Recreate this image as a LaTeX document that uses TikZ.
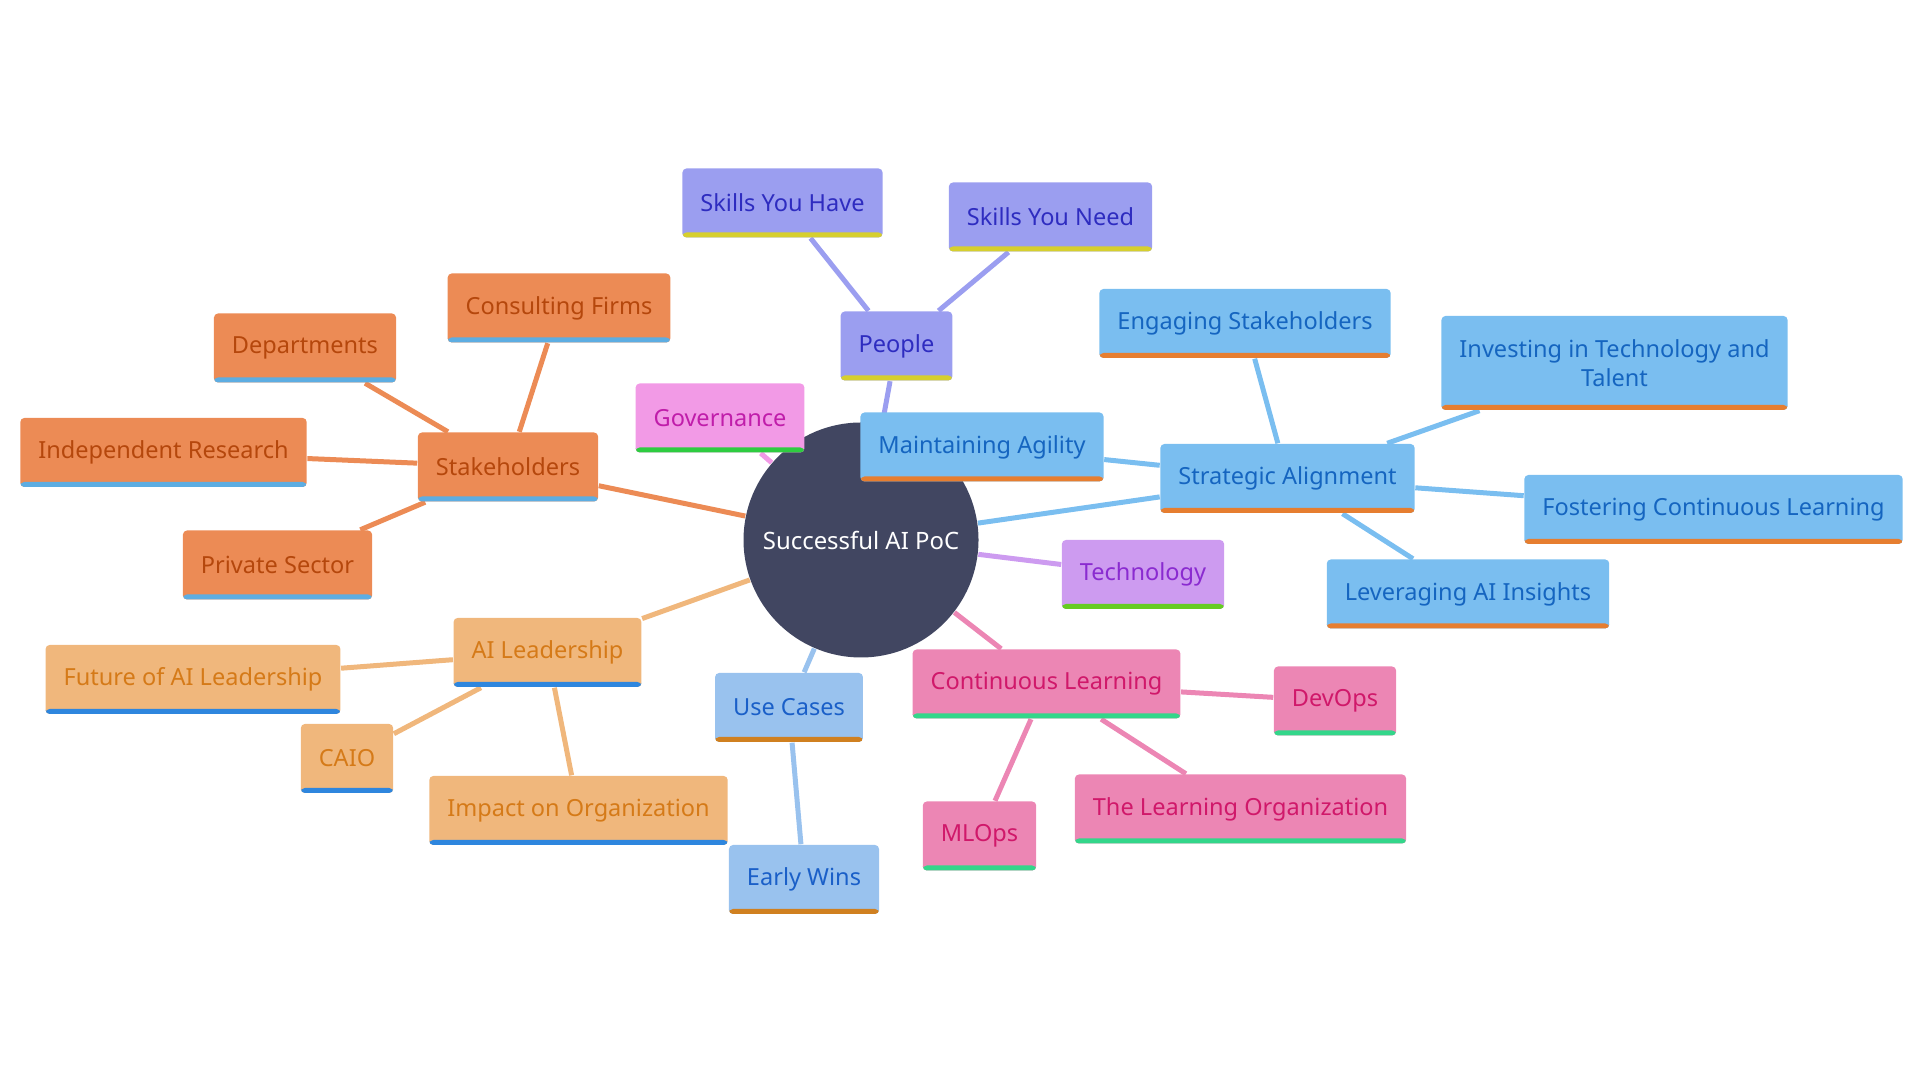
\documentclass[tikz,border=0pt]{standalone}
\usepackage{fontspec}
\setmainfont{Noto Sans}
\usepackage{tikz}
\usetikzlibrary{backgrounds}

\definecolor{hubfill}{HTML}{414661}
\definecolor{stakefill}{HTML}{EC8B55}
\definecolor{staketext}{HTML}{B5470C}
\definecolor{stakebar}{HTML}{5DADE2}
\definecolor{peoplefill}{HTML}{9B9EF0}
\definecolor{peopletext}{HTML}{2E2CC0}
\definecolor{peoplebar}{HTML}{D6CF2E}
\definecolor{govfill}{HTML}{F29AE6}
\definecolor{govtext}{HTML}{C01DAA}
\definecolor{govbar}{HTML}{2ECC40}
\definecolor{stratfill}{HTML}{7ABEF0}
\definecolor{strattext}{HTML}{1565C0}
\definecolor{stratbar}{HTML}{E67E30}
\definecolor{techfill}{HTML}{CD9BF0}
\definecolor{techtext}{HTML}{8A2BD0}
\definecolor{techbar}{HTML}{66CC22}
\definecolor{learnfill}{HTML}{EC86B4}
\definecolor{learntext}{HTML}{D0186A}
\definecolor{learnbar}{HTML}{33D68A}
\definecolor{usefill}{HTML}{99C2EE}
\definecolor{usetext}{HTML}{1A5FC8}
\definecolor{usebar}{HTML}{D08020}
\definecolor{leadfill}{HTML}{F0B77C}
\definecolor{leadtext}{HTML}{D57A18}
\definecolor{leadbar}{HTML}{2E86DE}

\begin{document}
\begin{tikzpicture}[
    leaf/.style={rounded corners=0.04cm, inner xsep=0.18cm, inner ysep=0cm,
      minimum height=0.69cm, font=\fontsize{6.7}{8.1}\selectfont},
    bottombar/.style={path picture={
        \fill [#1] ([yshift=0.05cm]path picture bounding box.south west)
        rectangle (path picture bounding box.south east);}},
    stakebox/.style={leaf, fill=stakefill, text=staketext, bottombar=stakebar},
    peoplebox/.style={leaf, fill=peoplefill, text=peopletext, bottombar=peoplebar},
    govbox/.style={leaf, fill=govfill, text=govtext, bottombar=govbar},
    stratbox/.style={leaf, fill=stratfill, text=strattext, bottombar=stratbar},
    techbox/.style={leaf, fill=techfill, text=techtext, bottombar=techbar},
    learnbox/.style={leaf, fill=learnfill, text=learntext, bottombar=learnbar},
    usebox/.style={leaf, fill=usefill, text=usetext, bottombar=usebar},
    leadbox/.style={leaf, fill=leadfill, text=leadtext, bottombar=leadbar},
    link/.style={line width=0.05cm}
  ]

  \useasboundingbox (0, 0) rectangle (19.2, 10.8);

  \node [circle, fill=hubfill, minimum size=2.35cm, text=white,
    font=\fontsize{6.8}{8.1}\selectfont] (hub) at (8.61, 5.40) {Successful AI PoC};

  % stakeholders
  \node [stakebox] (stake) at (5.08, 6.13) {Stakeholders};
  \node [stakebox] (dept) at (3.05, 7.32) {Departments};
  \node [stakebox] (consult) at (5.59, 7.72) {Consulting Firms};
  \node [stakebox] (indep) at (1.635, 6.275) {Independent Research};
  \node [stakebox] (private) at (2.775, 5.15) {Private Sector};

  % governance and people
  \node [govbox] (gov) at (7.20, 6.62) {Governance};
  \node [peoplebox] (people) at (8.965, 7.34) {People};
  \node [peoplebox] (have) at (7.825, 8.77) {Skills You Have};
  \node [peoplebox] (need) at (10.505, 8.63) {Skills You Need};

  % strategic alignment
  \node [stratbox] (agility) at (9.82, 6.33) {Maintaining Agility};
  \node [stratbox] (strat) at (12.875, 6.015) {Strategic Alignment};
  \node [stratbox] (engage) at (12.45, 7.565) {Engaging Stakeholders};
  \node [stratbox, minimum height=0.94cm, align=center] (invest) at (16.145, 7.17)
    {Investing in Technology and\\Talent};
  \node [stratbox] (foster) at (17.135, 5.705) {Fostering Continuous Learning};
  \node [stratbox] (leverage) at (14.68, 4.86) {Leveraging AI Insights};

  \node [techbox] (tech) at (11.43, 5.055) {Technology};

  % continuous learning
  \node [learnbox] (learn) at (10.465, 3.96) {Continuous Learning};
  \node [learnbox] (devops) at (13.35, 3.79) {DevOps};
  \node [learnbox] (lorg) at (12.405, 2.71) {The Learning Organization};
  \node [learnbox] (mlops) at (9.795, 2.44) {MLOps};

  % use cases
  \node [usebox] (usecase) at (7.89, 3.725) {Use Cases};
  \node [usebox] (wins) at (8.04, 2.005) {Early Wins};

  % ai leadership
  \node [leadbox] (lead) at (5.475, 4.275) {AI Leadership};
  \node [leadbox] (future) at (1.93, 4.005) {Future of AI Leadership};
  \node [leadbox] (caio) at (3.47, 3.215) {CAIO};
  \node [leadbox] (impact) at (5.785, 2.695) {Impact on Organization};

  \begin{pgfonlayer}{background}
    \draw [link, stakefill] (hub) -- (stake);
    \foreach \n in {dept, consult, indep, private} {
      \draw [link, stakefill] (stake) -- (\n);
    }
    \draw [link, govfill] (hub) -- (gov);
    \draw [link, peoplefill] (hub) -- (people);
    \foreach \n in {have, need} {
      \draw [link, peoplefill] (people) -- (\n);
    }
    \draw [link, stratfill] (hub) -- (strat);
    \foreach \n in {agility, engage, invest, foster, leverage} {
      \draw [link, stratfill] (strat) -- (\n);
    }
    \draw [link, techfill] (hub) -- (tech);
    \draw [link, learnfill] (hub) -- (learn);
    \foreach \n in {devops, lorg, mlops} {
      \draw [link, learnfill] (learn) -- (\n);
    }
    \draw [link, usefill] (hub) -- (usecase);
    \draw [link, usefill] (usecase) -- (wins);
    \draw [link, leadfill] (hub) -- (lead);
    \foreach \n in {future, caio, impact} {
      \draw [link, leadfill] (lead) -- (\n);
    }
  \end{pgfonlayer}

\end{tikzpicture}
\end{document}
